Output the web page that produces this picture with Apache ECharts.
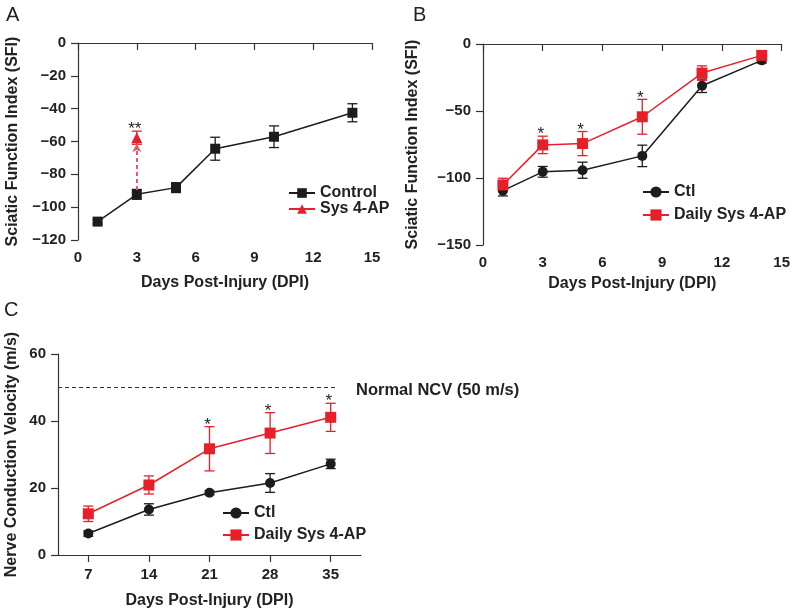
<!DOCTYPE html>
<html><head><meta charset="utf-8">
<script src="https://cdn.jsdelivr.net/npm/echarts@6/dist/echarts.min.js"></script>
<style>html,body{margin:0;padding:0;background:#fff}#c{width:793px;height:610px}</style>
</head><body><div id="c"></div>
<script>
// ---------- Panel A ----------
const aDays = [1, 3, 5, 7, 10, 14];
const aControl = [-108.8, -92.2, -88.1, -64.4, -57.1, -42.5];
const aControlErr = [1.5, 3, 3, 7, 6.6, 5.5];
const aSysDays = [3];
const aSys = [-57.7];
const aSysErr = [4];
const aArrowFrom = -89.5;
const aArrowTo = -61.5;
const aStarDays = [3];
const aStarText = ['**'];
// ---------- Panel B ----------
const bDays = [1, 3, 5, 8, 11, 14];
const bCtl = [-109.4, -95.4, -94.2, -83.5, -31.2, -12.2];
const bCtlErr = [4, 4, 6, 8, 5, 2];
const bSys = [-105.2, -75.3, -74.3, -54.3, -21.7, -8.5];
const bSysErr = [5, 6.5, 9, 13, 5.4, 3];
const bStarDays = [3, 5, 8];
// ---------- Panel C ----------
const cDays = ['7', '14', '21', '28', '35'];
const cCtl = [6.4, 13.6, 18.6, 21.5, 27.2];
const cCtlErr = [0.8, 1.7, 0.6, 2.8, 1.4];
const cSys = [12.3, 20.9, 31.7, 36.4, 41.1];
const cSysErr = [2.3, 2.7, 6.6, 6.1, 4.2];
const cStarDays = ['21', '28', '35'];
const normalNCV = 50;
const normalLabel = 'Normal NCV (50 m/s)';

const FONT = '"Liberation Sans", Arial, Helvetica, sans-serif';
const BLACK = '#1c1c1c';
const RED = '#e6202a';
const ARROW = '#e2596a';

function minusFmt(v) { return v < 0 ? '\u2212' + Math.abs(v) : String(v); }

function errData(xs, ys, es) { return xs.map((x, i) => [x, ys[i] - es[i], ys[i] + es[i]]); }
function errBar(color, capW) {
  return function (params, api) {
    const x = api.value(0), lo = api.value(1), hi = api.value(2);
    const p1 = api.coord([x, hi]), p2 = api.coord([x, lo]);
    const style = { stroke: color, lineWidth: 1.3 };
    return { type: 'group', children: [
      { type: 'line', shape: { x1: p1[0], y1: p1[1], x2: p2[0], y2: p2[1] }, style },
      { type: 'line', shape: { x1: p1[0] - capW, y1: p1[1], x2: p1[0] + capW, y2: p1[1] }, style },
      { type: 'line', shape: { x1: p2[0] - capW, y1: p2[1], x2: p2[0] + capW, y2: p2[1] }, style }
    ]};
  };
}
function starSeries(xi, yi, data) {
  return {
    type: 'custom', xAxisIndex: xi, yAxisIndex: yi, z: 5, silent: true,
    data: data,
    renderItem: function (params, api) {
      const p = api.coord([api.value(0), api.value(1)]);
      return { type: 'text', style: { text: data[params.dataIndex][2], x: p[0] - 2, y: p[1] + 7,
        textAlign: 'center', textVerticalAlign: 'bottom', font: '17px ' + FONT, fill: '#222' } };
    }
  };
}
function starData(xs, ys, es, texts) {
  return xs.map((x, k) => {
    const i = typeof x === 'string' ? cDays.indexOf(x) : (ys === bSys ? bDays.indexOf(x) : aSysDays.indexOf(x));
    const xv = typeof x === 'string' ? i : x;
    return [xv, ys[i] + es[i], texts ? texts[k] : '*'];
  });
}

const axisLine = { show: true, lineStyle: { color: '#333', width: 1.2 } };
const axisTick = { show: true, length: 7, lineStyle: { color: '#333', width: 1.2 } };
const labelStyle = { fontFamily: FONT, fontSize: 15, fontWeight: 'bold', color: '#222' };
const nameStyle = { fontFamily: FONT, fontSize: 16, fontWeight: 'bold', color: '#222' };
const legendText = { fontFamily: FONT, fontSize: 16, fontWeight: 'bold', color: '#222' };

function valX(grid, gap, min, max, interval) {
  return { type: 'value', gridIndex: grid, min, max, interval, splitLine: { show: false },
    axisLine, axisTick, axisLabel: Object.assign({ margin: 10 }, labelStyle),
    name: 'Days Post-Injury (DPI)', nameLocation: 'middle', nameGap: gap, nameTextStyle: nameStyle };
}
function valY(grid, name, gap, min, max, interval) {
  return { type: 'value', gridIndex: grid, min, max, interval, splitLine: { show: false },
    axisLine, axisTick, axisLabel: Object.assign({ margin: 12, formatter: minusFmt }, labelStyle),
    name, nameLocation: 'middle', nameGap: gap, nameTextStyle: nameStyle };
}

const option = {
  animation: false,
  backgroundColor: '#fff',
  textStyle: { fontFamily: FONT },
  graphic: [
    { type: 'text', left: 6, top: 5, style: { text: 'A', font: '20px ' + FONT, fill: '#222' } },
    { type: 'text', left: 413, top: 5, style: { text: 'B', font: '20px ' + FONT, fill: '#222' } },
    { type: 'text', left: 4, top: 300, style: { text: 'C', font: '20px ' + FONT, fill: '#222' } }
  ],
  grid: [
    { left: 78, top: 43, width: 294, height: 197 },
    { left: 483, top: 44, width: 301, height: 201 },
    { left: 58, top: 354, width: 303, height: 202 }
  ],
  xAxis: [
    valX(0, 35, 0, 15, 3),
    valX(1, 31, 0, 15, 3),
    { type: 'category', gridIndex: 2, data: cDays, boundaryGap: true,
      axisLine, axisTick: Object.assign({ alignWithLabel: true }, axisTick),
      axisLabel: Object.assign({ margin: 12 }, labelStyle),
      name: 'Days Post-Injury (DPI)', nameLocation: 'middle', nameGap: 38, nameTextStyle: nameStyle }
  ],
  yAxis: [
    valY(0, 'Sciatic Function Index (SFI)', 57, -120, 0, 20),
    valY(1, 'Sciatic Function Index (SFI)', 62, -150, 0, 50),
    valY(2, 'Nerve Conduction Velocity (m/s)', 38, 0, 60, 20)
  ],
  legend: [
    { data: ['Control', 'Sys 4-AP'], orient: 'vertical', left: 283, top: 180, itemWidth: 26, itemHeight: 12, itemGap: 0, textStyle: legendText, selectedMode: false },
    { data: ['Ctl', 'Daily Sys 4-AP'], orient: 'vertical', left: 637, top: 179, itemWidth: 26, itemHeight: 14, itemGap: 7, textStyle: legendText, selectedMode: false },
    { data: ['Ctl', 'Daily Sys 4-AP'], orient: 'vertical', left: 217, top: 500, itemWidth: 26, itemHeight: 14, itemGap: 6, textStyle: legendText, selectedMode: false }
  ],
  series: [
    // Panel A
    { type: 'custom', xAxisIndex: 0, yAxisIndex: 0, z: 1, silent: true, renderItem: errBar(BLACK, 5), data: errData(aDays, aControl, aControlErr) },
    { type: 'custom', xAxisIndex: 0, yAxisIndex: 0, z: 1, silent: true, renderItem: errBar(RED, 5), data: errData(aSysDays, aSys, aSysErr) },
    { name: 'Control', type: 'line', xAxisIndex: 0, yAxisIndex: 0, z: 3, symbol: 'rect', symbolSize: 10,
      itemStyle: { color: BLACK }, lineStyle: { color: BLACK, width: 1.5 },
      data: aDays.map((d, i) => [d, aControl[i]]) },
    { name: 'Sys 4-AP', type: 'line', xAxisIndex: 0, yAxisIndex: 0, z: 4, symbol: 'triangle', symbolSize: 11,
      itemStyle: { color: RED }, lineStyle: { color: RED, width: 1.5 },
      data: aSysDays.map((d, i) => [d, aSys[i]]),
      markLine: { silent: true, symbol: ['none', 'arrow'], symbolSize: [7, 8], label: { show: false },
        lineStyle: { color: ARROW, type: [4, 3], width: 2 },
        data: [[{ coord: [aSysDays[0], aArrowFrom] }, { coord: [aSysDays[0], aArrowTo] }]] } },
    starSeries(0, 0, starData(aStarDays, aSys, aSysErr, aStarText)),
    // Panel B
    { type: 'custom', xAxisIndex: 1, yAxisIndex: 1, z: 1, silent: true, renderItem: errBar(BLACK, 5), data: errData(bDays, bCtl, bCtlErr) },
    { type: 'custom', xAxisIndex: 1, yAxisIndex: 1, z: 1, silent: true, renderItem: errBar(RED, 5), data: errData(bDays, bSys, bSysErr) },
    { name: 'Ctl', type: 'line', xAxisIndex: 1, yAxisIndex: 1, z: 3, symbol: 'circle', symbolSize: 10,
      itemStyle: { color: BLACK }, lineStyle: { color: BLACK, width: 1.5 },
      data: bDays.map((d, i) => [d, bCtl[i]]) },
    { name: 'Daily Sys 4-AP', type: 'line', xAxisIndex: 1, yAxisIndex: 1, z: 4, symbol: 'rect', symbolSize: 11,
      itemStyle: { color: RED }, lineStyle: { color: RED, width: 1.5 },
      data: bDays.map((d, i) => [d, bSys[i]]) },
    starSeries(1, 1, starData(bStarDays, bSys, bSysErr)),
    // Panel C
    { type: 'custom', xAxisIndex: 2, yAxisIndex: 2, z: 1, silent: true, renderItem: errBar(BLACK, 5), data: errData(cDays.map((d, i) => i), cCtl, cCtlErr) },
    { type: 'custom', xAxisIndex: 2, yAxisIndex: 2, z: 1, silent: true, renderItem: errBar(RED, 5), data: errData(cDays.map((d, i) => i), cSys, cSysErr) },
    { name: 'Ctl', type: 'line', xAxisIndex: 2, yAxisIndex: 2, z: 3, symbol: 'circle', symbolSize: 10,
      itemStyle: { color: BLACK }, lineStyle: { color: BLACK, width: 1.5 }, data: cCtl },
    { name: 'Daily Sys 4-AP', type: 'line', xAxisIndex: 2, yAxisIndex: 2, z: 4, symbol: 'rect', symbolSize: 11,
      itemStyle: { color: RED }, lineStyle: { color: RED, width: 1.5 }, data: cSys },
    starSeries(2, 2, starData(cStarDays, cSys, cSysErr)),
    { type: 'custom', xAxisIndex: 2, yAxisIndex: 2, z: 2, silent: true, data: [[0, normalNCV]],
      renderItem: function (params, api) {
        const y = api.coord([0, api.value(1)])[1];
        const x0 = params.coordSys.x;
        return { type: 'group', children: [
          { type: 'line', shape: { x1: x0, y1: y, x2: x0 + 279, y2: y }, style: { stroke: '#333', lineWidth: 1, lineDash: [4, 3] } },
          { type: 'text', style: { text: normalLabel, x: x0 + 298, y: y + 3, textVerticalAlign: 'middle',
            font: 'bold 16.5px ' + FONT, fill: '#222' } }
        ]};
      } }
  ]
};
const chart = echarts.init(document.getElementById('c'), null, { renderer: 'canvas' });
chart.setOption(option);
</script>
</body></html>
